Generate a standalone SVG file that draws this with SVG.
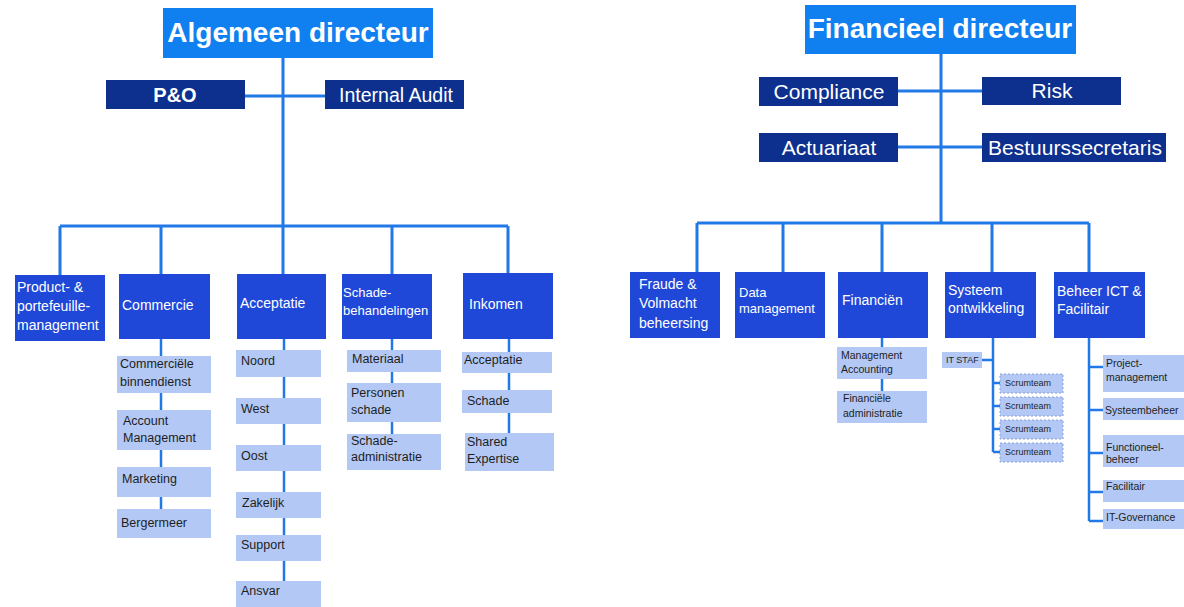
<svg xmlns="http://www.w3.org/2000/svg" width="1184" height="607" viewBox="0 0 1184 607">
<style>
.top{fill:#1080f0}
.navy{fill:#0d2f8e}
.mid{fill:#1f48d8}
.sub{fill:#b3c8f4}
.scrum{fill:#b3c8f4;stroke:#8aa0d8;stroke-width:1;stroke-dasharray:2 2}
.ln{stroke:#2079e6;stroke-width:3;fill:none}
.sl{stroke:#2079e6;stroke-width:2.5;fill:none}
text{font-family:"Liberation Sans",Arial,sans-serif}
.tt{fill:#fff;font-size:28px;font-weight:bold}
.nt{fill:#fff;font-size:21px}
.mt{fill:#fff;font-size:14px}
.m13{font-size:13px}
.st{fill:#1e1e1e;font-size:12.5px}
.xt{fill:#1e1e1e;font-size:10.5px}
.it{fill:#1e1e1e;font-size:9px}
</style>
<rect width="1184" height="607" fill="#fff"/>
<g id="connectors">
<path class="ln" d="M283 58V226M245 96H325M60 226H508M60 226V275M161 226V274M283 226V274M392 226V274M508 226V273"/>
<path class="sl" d="M161 339V509M284 339V581M392 339V434M509 339V433"/>
<path class="ln" d="M941 54V223M898 91H982M898 147H982M697 223H1089M697 223V272M783 223V272M882 223V272M992 223V272M1089 223V272"/>
<path class="sl" d="M882 338V391M993 338V452M982 360H993M993 383H1000M993 406H1000M993 429H1000M993 452H1000M1089 338V521M1089 367H1103M1089 410H1103M1089 453H1103M1089 492H1103M1089 521H1103"/>
</g>
<g id="n-algemeen"><rect class="top" x="163" y="8" width="270" height="50"/><text class="tt" x="298" y="42" text-anchor="middle">Algemeen directeur</text></g>
<g id="n-po"><rect class="navy" x="106" y="80" width="139" height="29"/><text class="nt" x="175" y="102" text-anchor="middle" font-weight="bold" style="font-size:20px">P&amp;O</text></g>
<g id="n-audit"><rect class="navy" x="325" y="80" width="139" height="29"/><text class="nt" x="396" y="102" text-anchor="middle" style="font-size:19.5px">Internal Audit</text></g>
<g id="n-product"><rect class="mid" x="15" y="275" width="90" height="66"/><text class="mt" x="17" y="292">Product- &amp;</text><text class="mt" x="17" y="311">portefeuille-</text><text class="mt" x="17" y="330">management</text></g>
<g id="n-commercie"><rect class="mid" x="119" y="274" width="91" height="65"/><text class="mt" x="122" y="310">Commercie</text></g>
<g id="n-acceptatie"><rect class="mid" x="237" y="274" width="89" height="65"/><text class="mt" x="240" y="308">Acceptatie</text></g>
<g id="n-schade"><rect class="mid" x="342" y="274" width="90" height="65"/><text class="mt m13" x="343" y="297">Schade-</text><text class="mt m13" x="343" y="315">behandelingen</text></g>
<g id="n-inkomen"><rect class="mid" x="463" y="273" width="90" height="66"/><text class="mt" x="469" y="309">Inkomen</text></g>
<g id="n-cb"><rect class="sub" x="117" y="356" width="94" height="37"/><text class="st" x="120" y="368">Commerciële</text><text class="st" x="120" y="386">binnendienst</text></g>
<g id="n-am"><rect class="sub" x="117" y="410" width="94" height="40"/><text class="st" x="123" y="425">Account</text><text class="st" x="123" y="442">Management</text></g>
<g id="n-marketing"><rect class="sub" x="117" y="467" width="94" height="30"/><text class="st" x="122" y="483">Marketing</text></g>
<g id="n-bergermeer"><rect class="sub" x="117" y="509" width="94" height="29"/><text class="st" x="121" y="527">Bergermeer</text></g>
<g id="n-noord"><rect class="sub" x="236" y="350" width="85" height="27"/><text class="st" x="241" y="365">Noord</text></g>
<g id="n-west"><rect class="sub" x="236" y="398" width="85" height="26"/><text class="st" x="241" y="413">West</text></g>
<g id="n-oost"><rect class="sub" x="236" y="445" width="85" height="26"/><text class="st" x="241" y="460">Oost</text></g>
<g id="n-zakelijk"><rect class="sub" x="236" y="492" width="85" height="26"/><text class="st" x="242" y="507">Zakelijk</text></g>
<g id="n-support"><rect class="sub" x="236" y="535" width="85" height="26"/><text class="st" x="241" y="549">Support</text></g>
<g id="n-ansvar"><rect class="sub" x="236" y="581" width="85" height="26"/><text class="st" x="241" y="595">Ansvar</text></g>
<g id="n-materiaal"><rect class="sub" x="347" y="350" width="94" height="22"/><text class="st" x="352" y="363">Materiaal</text></g>
<g id="n-personen"><rect class="sub" x="347" y="383" width="94" height="39"/><text class="st" x="351" y="397">Personen</text><text class="st" x="351" y="414">schade</text></g>
<g id="n-schadeadm"><rect class="sub" x="347" y="434" width="94" height="36"/><text class="st" x="351" y="445">Schade-</text><text class="st" x="351" y="461">administratie</text></g>
<g id="n-ink-acc"><rect class="sub" x="462" y="352" width="90" height="21"/><text class="st" x="464" y="364">Acceptatie</text></g>
<g id="n-ink-schade"><rect class="sub" x="462" y="390" width="90" height="23"/><text class="st" x="467" y="405">Schade</text></g>
<g id="n-shared"><rect class="sub" x="465" y="433" width="89" height="38"/><text class="st" x="467" y="446">Shared</text><text class="st" x="467" y="463">Expertise</text></g>
<g id="n-financieel"><rect class="top" x="805" y="5" width="271" height="49"/><text class="tt" x="940" y="38" text-anchor="middle">Financieel directeur</text></g>
<g id="n-compliance"><rect class="navy" x="759" y="77" width="139" height="29"/><text class="nt" x="829" y="99" text-anchor="middle">Compliance</text></g>
<g id="n-risk"><rect class="navy" x="982" y="77" width="139" height="28"/><text class="nt" x="1052" y="98" text-anchor="middle">Risk</text></g>
<g id="n-actuariaat"><rect class="navy" x="759" y="133" width="139" height="29"/><text class="nt" x="829" y="155" text-anchor="middle">Actuariaat</text></g>
<g id="n-bestuur"><rect class="navy" x="982" y="133" width="184" height="29"/><text class="nt" x="1075" y="155" text-anchor="middle">Bestuurssecretaris</text></g>
<g id="n-fraude"><rect class="mid" x="630" y="272" width="90" height="66"/><text class="mt" x="639" y="289">Fraude &amp;</text><text class="mt" x="639" y="308">Volmacht</text><text class="mt" x="639" y="328">beheersing</text></g>
<g id="n-data"><rect class="mid" x="735" y="272" width="90" height="66"/><text class="mt m13" x="739" y="297">Data</text><text class="mt m13" x="739" y="313">management</text></g>
<g id="n-financien"><rect class="mid" x="838" y="272" width="90" height="66"/><text class="mt" x="842" y="305">Financiën</text></g>
<g id="n-systeem"><rect class="mid" x="945" y="272" width="91" height="66"/><text class="mt" x="948" y="295">Systeem</text><text class="mt" x="948" y="313">ontwikkeling</text></g>
<g id="n-beheer"><rect class="mid" x="1054" y="272" width="91" height="66"/><text class="mt" x="1057" y="296">Beheer ICT &amp;</text><text class="mt" x="1057" y="314">Facilitair</text></g>
<g id="n-ma"><rect class="sub" x="837" y="347" width="90" height="32"/><text class="xt" x="841" y="359">Management</text><text class="xt" x="841" y="373">Accounting</text></g>
<g id="n-fa"><rect class="sub" x="837" y="391" width="90" height="32"/><text class="xt" x="843" y="402">Financiële</text><text class="xt" x="843" y="417">administratie</text></g>
<g id="n-itstaf"><rect class="sub" x="942" y="352" width="40" height="16"/><text class="it" x="946" y="363">IT STAF</text></g>
<g id="n-scrum1"><rect class="scrum" x="1000" y="374" width="63" height="19"/><text class="it" x="1005" y="386">Scrumteam</text></g>
<g id="n-scrum2"><rect class="scrum" x="1000" y="397" width="63" height="19"/><text class="it" x="1005" y="409">Scrumteam</text></g>
<g id="n-scrum3"><rect class="scrum" x="1000" y="420" width="63" height="19"/><text class="it" x="1005" y="432">Scrumteam</text></g>
<g id="n-scrum4"><rect class="scrum" x="1000" y="443" width="63" height="19"/><text class="it" x="1005" y="455">Scrumteam</text></g>
<g id="n-project"><rect class="sub" x="1103" y="355" width="84" height="37"/><text class="xt" x="1106" y="367">Project-</text><text class="xt" x="1106" y="381">management</text></g>
<g id="n-sysbeheer"><rect class="sub" x="1103" y="398" width="84" height="22"/><text class="xt" x="1105" y="414">Systeembeheer</text></g>
<g id="n-functioneel"><rect class="sub" x="1103" y="435" width="84" height="32"/><text class="xt" x="1106" y="451">Functioneel-</text><text class="xt" x="1106" y="463">beheer</text></g>
<g id="n-facilitair"><rect class="sub" x="1103" y="480" width="84" height="22"/><text class="xt" x="1106" y="490">Facilitair</text></g>
<g id="n-itgov"><rect class="sub" x="1103" y="509" width="84" height="20"/><text class="xt" x="1106" y="521">IT-Governance</text></g>
</svg>
